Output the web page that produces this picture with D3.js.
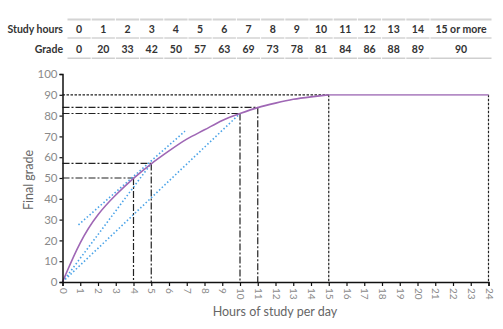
<!DOCTYPE html>
<html><head><meta charset="utf-8">
<script src="https://cdn.jsdelivr.net/npm/d3@7"></script>
<style>body{margin:0;background:#fff}svg{display:block}</style>
</head><body>
<svg id="c" width="503" height="329"></svg>
<script>
const hours = [0,1,2,3,4,5,6,7,8,9,10,11,12,13,14,15,24];
const grades = [0,20,33,42,50,57,63,69,73,78,81,84,86,88,89,90,90];
const tableHours = ["0","1","2","3","4","5","6","7","8","9","10","11","12","13","14","15 or more"];
const tableGrades = ["0","20","33","42","50","57","63","69","73","78","81","84","86","88","89","90"];
const xTicks = d3.range(0,25);
const yTicks = d3.range(0,101,10);
// reference guide points [hour, grade, style]
const guides = [[4,50,"dd"],[5,57,"dd"],[10,81,"dd"],[11,84,"dd"],[15,90,"dot"]];
// blue dotted lines: [x1,y1,x2,y2]
const blueLines = [[0.9,27.5,6.9,72.5],[0,0,5,57],[0,0,10,81]];

const svg = d3.select("#c");
const x = d3.scaleLinear().domain([0,24]).range([62.5,488.5]);
const y = d3.scaleLinear().domain([0,100]).range([282,74]);
const font = "Lato, 'Open Sans', sans-serif";

// table
const tx0 = 67, cw = 24.2, lastW = 62;
const rows = [{label:"Study hours", vals:tableHours, y0:19, y1:38},{label:"Grade", vals:tableGrades, y0:38, y1:58}];
const cells = [];
tableHours.forEach((_,i)=>{cells.push({x:tx0+i*cw, w: i<15?cw:lastW});});
const tg = svg.append("g");
cells.forEach(c=>{
  tg.append("rect").attr("x",c.x+0.5).attr("y",18.5).attr("width",c.w-1).attr("height",2).attr("fill","#d4d4d4");
  tg.append("rect").attr("x",c.x+0.5).attr("y",37.5).attr("width",c.w-1).attr("height",1).attr("fill","#bdbdbd");
  tg.append("rect").attr("x",c.x+0.5).attr("y",57.5).attr("width",c.w-1).attr("height",1.5).attr("fill","#cfcfcf");
});
rows.forEach(r=>{
  const cy = (r.y0+r.y1)/2+1;
  tg.append("text").attr("x",63).attr("y",cy).attr("dy","0.35em").attr("text-anchor","end")
    .attr("font-family",font).attr("font-weight","bold").attr("font-size",10.5).attr("fill","#333").text(r.label);
  r.vals.forEach((v,i)=>{
    tg.append("text").attr("x",cells[i].x+cells[i].w/2).attr("y",cy).attr("dy","0.35em").attr("text-anchor","middle")
      .attr("font-family",font).attr("font-weight","bold").attr("font-size",10.5).attr("fill","#333").text(v);
  });
});

// guides
const dashStyles = {dd:"7,2,2,2", dot:"2.5,1.5"};
guides.forEach(([h,g,s])=>{
  svg.append("line").attr("x1",x(0)).attr("x2",x(h)).attr("y1",y(g)).attr("y2",y(g))
    .attr("stroke","#222").attr("stroke-width",1.2).attr("stroke-dasharray",dashStyles[s]);
  svg.append("line").attr("x1",x(h)).attr("x2",x(h)).attr("y1",y(g)).attr("y2",y(0))
    .attr("stroke","#222").attr("stroke-width",1.2).attr("stroke-dasharray",dashStyles[s]);
});
svg.append("line").attr("x1",x(24)).attr("x2",x(24)).attr("y1",y(90)).attr("y2",y(0))
  .attr("stroke","#222").attr("stroke-width",1.2).attr("stroke-dasharray",dashStyles.dot);

// blue dotted lines
blueLines.forEach(([a,b,c,d])=>{
  svg.append("line").attr("x1",x(a)).attr("y1",y(b)).attr("x2",x(c)).attr("y2",y(d))
    .attr("stroke","#4aa3e8").attr("stroke-width",1.6).attr("stroke-dasharray","1.5,2.2");
});

// curve (smoothed through the table values, flat after 15 h)
const pts = hours.map((h,i)=>[h,grades[i]]);
const rise = pts.filter(d=>d[0]<=15);
const flat = pts.filter(d=>d[0]>=15);
const line = d3.line().x(d=>x(d[0])).y(d=>y(d[1]));
svg.append("path").datum(rise)
  .attr("d", line.curve(d3.curveBasis)(rise))
  .attr("fill","none").attr("stroke","#9f67b5").attr("stroke-width",1.6);
svg.append("path").datum(flat)
  .attr("d", d3.line().x(d=>x(d[0])).y(d=>y(d[1]))(flat))
  .attr("fill","none").attr("stroke","#b48cc6").attr("stroke-width",1.8);

// axes
const yAxis = svg.append("g").attr("transform",`translate(${x(0)},0)`)
  .call(d3.axisLeft(y).tickValues(yTicks).tickSize(3).tickPadding(2));
const xAxis = svg.append("g").attr("transform",`translate(0,${y(0)})`)
  .call(d3.axisBottom(x).tickValues(xTicks).tickSize(4).tickPadding(3));
[yAxis,xAxis].forEach(a=>{
  a.select(".domain").attr("stroke","#111").attr("stroke-width",1.5);
  a.selectAll(".tick line").attr("stroke","#111").attr("stroke-width",1.2);
  a.selectAll("text").attr("font-family",font).attr("font-size",11.5).attr("fill","#8a8a8a");
});
xAxis.selectAll("text").attr("font-size",10).attr("transform","rotate(90)")
  .attr("text-anchor","start").attr("x",6).attr("y",0).attr("dy","0.35em");

svg.append("text").attr("x",275).attr("y",316).attr("text-anchor","middle")
  .attr("font-family",font).attr("font-size",12.5).attr("fill","#666").text("Hours of study per day");
svg.append("text").attr("transform","translate(33,180) rotate(-90)").attr("text-anchor","middle")
  .attr("font-family",font).attr("font-size",12.5).attr("fill","#666").text("Final grade");
</script>
</body></html>
